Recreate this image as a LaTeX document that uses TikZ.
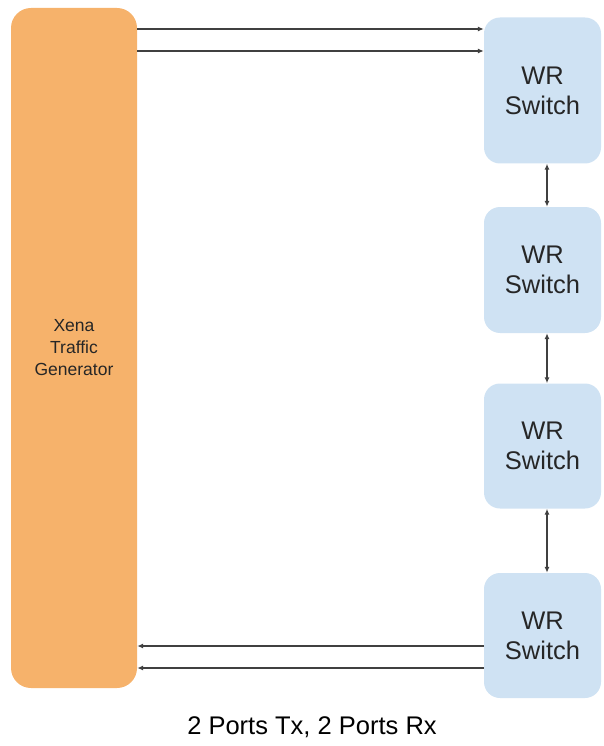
\documentclass[tikz,border=0pt]{standalone}
\usepackage{fontspec}
\setmainfont{Liberation Sans}
\usetikzlibrary{arrows.meta}
\definecolor{gen}{HTML}{F6B26B}
\definecolor{sw}{HTML}{CFE2F3}
\definecolor{ln}{HTML}{404040}
\definecolor{tx}{HTML}{262626}
\tikzset{
  genbox/.style={fill=gen, draw=none, rounded corners=20pt, minimum width=126pt, minimum height=680pt, inner sep=0pt,
    align=center, text=tx, font=\fontsize{17.5}{22}\selectfont},
  swbox/.style={fill=sw, draw=none, rounded corners=16pt, minimum width=117pt, inner sep=0pt,
    align=center, text=tx, font=\fontsize{25.5}{30}\selectfont},
  link/.style={draw=ln, line width=1.2pt, -{Latex[length=6pt,width=5pt]}},
  dlink/.style={draw=ln, line width=1.2pt, {Latex[length=6pt,width=5pt]}-{Latex[length=6pt,width=5pt]}},
}
\begin{document}
\begin{tikzpicture}[x=1pt,y=-1pt]
\useasboundingbox (0,0) rectangle (603,746);
\node[genbox] (gen) at (74,348) {Xena\\Traffic\\Generator};
\node[swbox, minimum height=146pt] (s1) at (542.5,90.5) {WR\\Switch};
\node[swbox, minimum height=126pt] (s2) at (542.5,270) {WR\\Switch};
\node[swbox, minimum height=125pt] (s3) at (542.5,446) {WR\\Switch};
\node[swbox, minimum height=125pt] (s4) at (542.5,635.5) {WR\\Switch};
% top Tx arrows
\coordinate (t1) at (137,29);
\coordinate (t2) at (137,51);
\draw[link] (t1) -- (t1 -| s1.west);
\draw[link] (t2) -- (t2 -| s1.west);
% bottom Rx arrows
\coordinate (r1) at (484,646);
\coordinate (r2) at (484,668);
\draw[link] (r1) -- (r1 -| gen.east);
\draw[link] (r2) -- (r2 -| gen.east);
% vertical links
\coordinate (v) at (547,0);
\draw[dlink] (v |- s1.south) -- (v |- s2.north);
\draw[dlink] (v |- s2.south) -- (v |- s3.north);
\draw[dlink] (v |- s3.south) -- (v |- s4.north);
\node[font=\fontsize{25.5}{30}\selectfont, text=black] (cap) at (312,727) {2 Ports Tx, 2 Ports Rx};
\end{tikzpicture}
\end{document}
